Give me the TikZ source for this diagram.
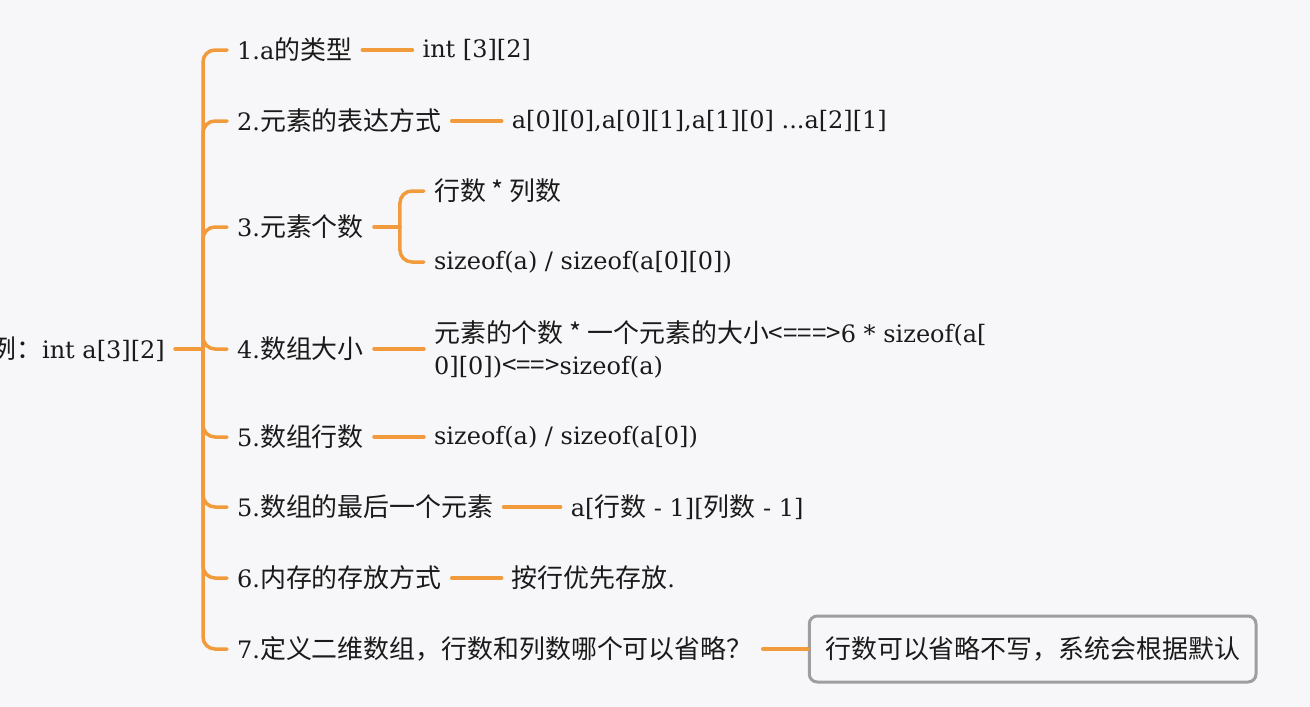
\documentclass[tikz,border=0pt]{standalone}
\usepackage{fontspec}
\setmainfont{DejaVu Serif}
\newfontfamily\cjkfont[Scale=1.08]{Noto Sans CJK SC}
\newcommand\zhs[1]{{\cjkfont #1}}
\usetikzlibrary{positioning}
\definecolor{BgGray}{HTML}{F7F7F9}
\definecolor{MapOrange}{HTML}{F29B3D}
\definecolor{BoxGray}{HTML}{9E9E9E}
\definecolor{TextInk}{HTML}{1A1A1A}

\begin{document}
\begin{tikzpicture}[x=1pt, y=-1pt,
    font=\fontsize{24}{32}\selectfont, text=TextInk,
    topic/.style={anchor=west, inner xsep=10pt, inner ysep=3pt},
    detail/.style={inner xsep=10pt, inner ysep=3pt},
    branch/.style={MapOrange, line width=3.5pt, line cap=round, rounded corners=12pt}]
    % Page
    \fill[BgGray] (0,0) rectangle (1310,707);
    \useasboundingbox (0,0) rectangle (1310,707);

    % Root and fork
    \node[anchor=east, inner xsep=10pt] (root) at (175, 349) {\zhs{例：}int a[3][2]};
    \coordinate (fork) at (203, 349);
    \draw[branch] (root.east) -- (fork);

    % Main topics
    \node[topic] (c1) at (227, 50) {1.a\zhs{的类型}};
    \node[topic] (c2) at (227, 121) {2.\zhs{元素的表达方式}};
    \node[topic] (c3) at (227, 227) {3.\zhs{元素个数}};
    \node[topic] (c4) at (227, 349) {4.\zhs{数组大小}};
    \node[topic] (c5) at (227, 437) {5.\zhs{数组行数}};
    \node[topic] (c6) at (227, 507) {5.\zhs{数组的最后一个元素}};
    \node[topic] (c7) at (227, 578) {6.\zhs{内存的存放方式}};
    \node[topic] (c8) at (227, 649) {7.\zhs{定义二维数组，行数和列数哪个可以省略？}};
    \foreach \n in {c1,c2,c3,c4,c5,c6,c7,c8}
        \draw[branch] (fork) |- (\n.west);

    % Details
    \node[detail, right=50pt of c1] (d1) {int [3][2]};
    \node[detail, right=50pt of c2] (d2) {a[0][0],a[0][1],a[1][0] ...a[2][1]};
    \node[detail, right=50pt of c4, align=left] (d4)
        {\zhs{元素的个数 * 一个元素的大小<===>}6 * sizeof(a[\\0][0])\zhs{<==>}sizeof(a)};
    \node[detail, right=50pt of c5] (d5) {sizeof(a) / sizeof(a[0])};
    \node[detail, right=57pt of c6] (d6) {a[\zhs{行数} - 1][\zhs{列数} - 1]};
    \node[detail, right=50pt of c7] (d7) {\zhs{按行优先存放}.};
    \node[draw=BoxGray, line width=3pt, rounded corners=8pt, inner xsep=16pt,
        minimum height=66pt, right=45pt of c8] (d8) {\zhs{行数可以省略不写，系统会根据默认}};
    \foreach \a/\b in {c1/d1,c2/d2,c4/d4,c5/d5,c6/d6,c7/d7,c8/d8}
        \draw[branch] (\a.east) -- (\b.west);

    % Element count: two ways
    \coordinate (fork3) at ([xshift=26pt]c3.east);
    \node[topic] (d3a) at ([xshift=24pt]fork3 |- 0,191) {\zhs{行数 * 列数}};
    \node[topic] (d3b) at ([xshift=24pt]fork3 |- 0,262) {sizeof(a) / sizeof(a[0][0])};
    \draw[branch] (c3.east) -- (fork3);
    \draw[branch] (fork3) |- (d3a.west);
    \draw[branch] (fork3) |- (d3b.west);
\end{tikzpicture}
\end{document}
